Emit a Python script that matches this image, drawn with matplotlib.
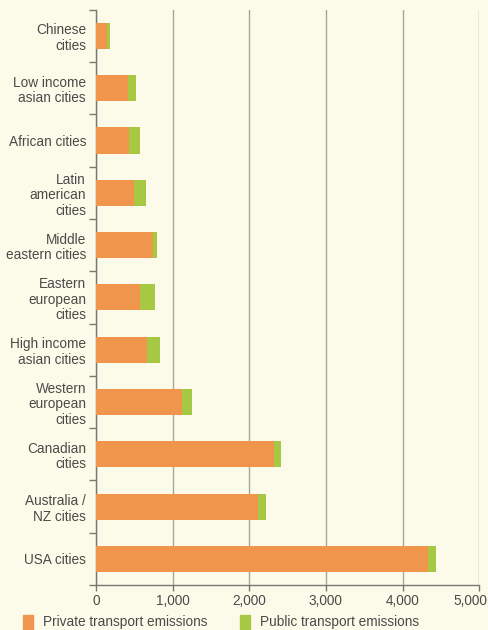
import numpy as np
import matplotlib
matplotlib.use('Agg')
import matplotlib.pyplot as plt
import matplotlib.transforms as mtransforms
from matplotlib.patches import Rectangle

plt.rcParams['font.family'] = ['Liberation Sans', 'DejaVu Sans']

# data (top to bottom)
cities = ['Chinese\ncities', 'Low income\nasian cities', 'African cities',
          'Latin\namerican\ncities', 'Middle\neastern cities', 'Eastern\neuropean\ncities',
          'High income\nasian cities', 'Western\neuropean\ncities', 'Canadian\ncities',
          'Australia /\nNZ cities', 'USA cities']
private = [140, 420, 430, 500, 740, 570, 670, 1120, 2330, 2110, 4330]
public = [50, 100, 150, 150, 60, 200, 165, 140, 85, 110, 110]
xticks = [0, 1000, 2000, 3000, 4000, 5000]

bg = '#fcfbe9'
orange = '#f0964c'
green = '#a6c842'
txt = '#4a4a4a'

fig = plt.figure(figsize=(4.89, 6.30), dpi=100, facecolor=bg)
ax = fig.add_axes([0.196, 0.0714, 0.784, 0.913], facecolor=bg)

y = np.arange(len(cities))
ax.barh(y, private, height=0.5, color=orange, zorder=3)
ax.barh(y, public, left=private, height=0.5, color=green, zorder=3)

ax.set_ylim(len(cities) - 0.5, -0.5)
ax.set_xlim(0, 5000)
ax.set_yticks(y)
ax.set_yticklabels(cities, fontsize=9.8, color=txt, linespacing=1.15)
ax.set_yticks(np.arange(len(cities) + 1) - 0.5, minor=True)
ax.tick_params(axis='y', which='major', length=0, pad=7)
ax.tick_params(axis='y', which='minor', length=5, width=1, color='#777777')

ax.set_xticks(xticks)
ax.set_xticklabels(['{:,}'.format(v) for v in xticks], fontsize=9.8, color=txt)
ax.tick_params(axis='x', length=4, width=1, color='#777777', pad=2.5)
# last label sits a little inside the edge, as in the reference
last = ax.get_xticklabels()[-1]
last.set_transform(last.get_transform() +
                   mtransforms.ScaledTranslation(-9 / 100, 0, fig.dpi_scale_trans))
ax.grid(axis='x', color='#a5a59c', linewidth=1, zorder=1)

for s in ['top', 'right']:
    ax.spines[s].set_visible(False)
for s in ['left', 'bottom']:
    ax.spines[s].set_color('#777777')
    ax.spines[s].set_linewidth(1)

# legend along the bottom edge
fig.patches.append(Rectangle((0.047, 0.0), 0.021, 0.024, transform=fig.transFigure,
                             color=orange, figure=fig))
fig.text(0.088, 0.012, 'Private transport emissions', fontsize=9.8, color=txt, va='center')
fig.patches.append(Rectangle((0.490, 0.0), 0.021, 0.024, transform=fig.transFigure,
                             color=green, figure=fig))
fig.text(0.532, 0.012, 'Public transport emissions', fontsize=9.8, color=txt, va='center')

fig.savefig('out.png', dpi=100, facecolor=bg)
